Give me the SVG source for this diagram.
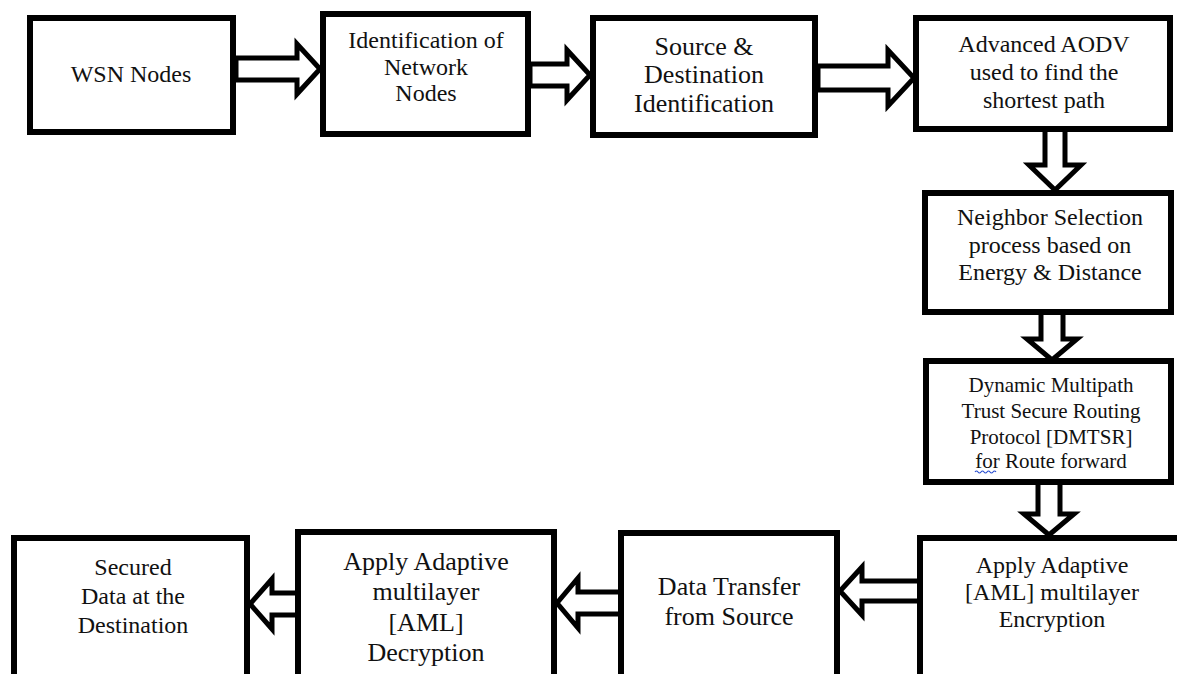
<svg xmlns="http://www.w3.org/2000/svg" width="1177" height="674" viewBox="0 0 1177 674">
<style>
.box{fill:#fff;stroke:#000;stroke-width:6}
.arr{fill:#fff;stroke:#000;stroke-width:5;stroke-linejoin:miter;stroke-miterlimit:10}
text{font-family:"Liberation Serif","Times New Roman",serif;fill:#111;text-anchor:middle}
.f24{font-size:24px}.f26{font-size:26px}.f21{font-size:21px}
</style>
<rect width="1177" height="674" fill="#fff"/>
<g id="connectors">
<path class="arr" d="M236,58 L297,58 L297,44 L320,69 L297,94 L297,80 L236,80 Z"/>
<path class="arr" d="M530,64 L567,64 L567,50 L590,75 L567,100 L567,86 L530,86 Z"/>
<path class="arr" d="M818,66 L888,66 L888,50 L914,78 L888,106 L888,90 L818,90 Z"/>
<path class="arr" d="M1045,129 L1045,165 L1029,165 L1055,190 L1081,165 L1065,165 L1065,129 Z"/>
<path class="arr" d="M1041,312 L1041,339 L1027,339 L1052,360 L1077,339 L1063,339 L1063,312 Z"/>
<path class="arr" d="M1038,482 L1038,514 L1024,514 L1049,535 L1074,514 L1060,514 L1060,482 Z"/>
<path class="arr" d="M920,581 L862,581 L862,567 L840,591 L862,615 L862,601 L920,601 Z"/>
<path class="arr" d="M621,592 L578,592 L578,578 L557,603 L578,628 L578,614 L621,614 Z"/>
<path class="arr" d="M298,593 L272,593 L272,579 L250,604 L272,629 L272,615 L298,615 Z"/>
</g>
<g id="n1"><rect class="box" x="30" y="18" width="203" height="114"/>
<text class="f24" x="131" y="82">WSN Nodes</text></g>
<g id="n2"><rect class="box" x="323" y="14" width="205" height="120"/>
<text class="f24" x="426" y="48">Identification of</text>
<text class="f24" x="426" y="75">Network</text>
<text class="f24" x="426" y="101">Nodes</text></g>
<g id="n3"><rect class="box" x="593" y="18" width="222" height="117"/>
<text class="f26" x="704" y="55">Source &amp;</text>
<text class="f26" x="704" y="83">Destination</text>
<text class="f26" x="704" y="112">Identification</text></g>
<g id="n4"><rect class="box" x="916" y="18" width="254" height="111"/>
<text class="f24" x="1044" y="52">Advanced AODV</text>
<text class="f24" x="1044" y="80">used to find the</text>
<text class="f24" x="1044" y="108">shortest path</text></g>
<g id="n5"><rect class="box" x="925" y="193" width="246" height="119"/>
<text class="f24" x="1050" y="225">Neighbor Selection</text>
<text class="f24" x="1050" y="253">process based on</text>
<text class="f24" x="1050" y="280">Energy &amp; Distance</text></g>
<g id="n6"><rect class="box" x="926" y="361" width="245" height="121"/>
<text class="f21" x="1051" y="392">Dynamic Multipath</text>
<text class="f21" x="1051" y="418">Trust Secure Routing</text>
<text class="f21" x="1051" y="444">Protocol [DMTSR]</text>
<text class="f21" x="1051" y="468">for Route forward</text>
<path d="M975,472 q1.5,-2 3,0 t3,0 t3,0 t3,0 t3,0 t3,0 t3,0" fill="none" stroke="#2a4fd0" stroke-width="1.2"/></g>
<g id="n7"><rect class="box" x="920" y="538" width="270" height="150"/>
<text class="f24" x="1052" y="573">Apply Adaptive</text>
<text class="f24" x="1052" y="600">[AML] multilayer</text>
<text class="f24" x="1052" y="627">Encryption</text></g>
<g id="n8"><rect class="box" x="621" y="533" width="216" height="150"/>
<text class="f26" x="729" y="595">Data Transfer</text>
<text class="f26" x="729" y="625">from Source</text></g>
<g id="n9"><rect class="box" x="298" y="532" width="256" height="150"/>
<text class="f26" x="426" y="570">Apply Adaptive</text>
<text class="f26" x="426" y="600">multilayer</text>
<text class="f26" x="426" y="631">[AML]</text>
<text class="f26" x="426" y="661">Decryption</text></g>
<g id="n10"><rect class="box" x="14" y="538" width="233" height="150"/>
<text class="f24" x="133" y="575">Secured</text>
<text class="f24" x="133" y="604">Data at the</text>
<text class="f24" x="133" y="633">Destination</text></g>
</svg>
